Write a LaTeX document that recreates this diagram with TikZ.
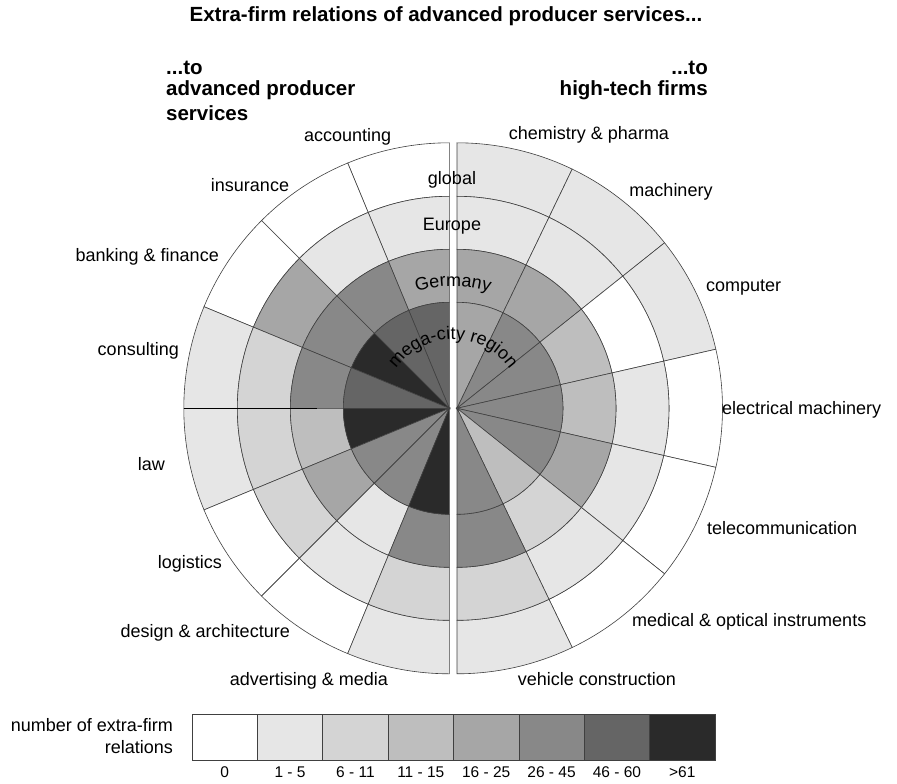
\documentclass[tikz,border=0pt]{standalone}
\usepackage{fontspec}
\setmainfont{Liberation Sans}
\usetikzlibrary{decorations.text}
\definecolor{lvA}{HTML}{FFFFFF}
\definecolor{lvB}{HTML}{E6E6E6}
\definecolor{lvC}{HTML}{D4D4D4}
\definecolor{lvD}{HTML}{BEBEBE}
\definecolor{lvE}{HTML}{A6A6A6}
\definecolor{lvF}{HTML}{888888}
\definecolor{lvG}{HTML}{656565}
\definecolor{lvH}{HTML}{2A2A2A}
\definecolor{gridline}{HTML}{404040}
\newcommand\lblfont{\fontsize{18}{21}\selectfont}
\newcommand\hdrfont{\fontsize{20.5}{23}\selectfont\bfseries}
\newcommand\legfont{\fontsize{15.5}{18}\selectfont}
\def\radM{106}
\def\radG{159}
\def\radE{212}
\def\radW{265.5}
\begin{document}
\begin{tikzpicture}[x=1pt,y=1pt,
  cellstyle/.style={draw=gridline, line width=0.6pt},
  lbl/.style={font=\lblfont, inner sep=0pt},
  hdr/.style={font=\hdrfont, inner sep=0pt},
  legtxt/.style={font=\legfont, inner sep=0pt}]
\useasboundingbox (0,0) rectangle (897,-784);

% ---------- left half: advanced producer services ----------
\begin{scope}[shift={(449.3,-408.3)}]
\foreach \k/\cw/\ce/\cg/\cm in {0/lvA/lvB/lvE/lvG, 1/lvA/lvB/lvF/lvG, 2/lvA/lvE/lvF/lvH, 3/lvB/lvC/lvF/lvG, 4/lvB/lvC/lvD/lvH, 5/lvA/lvC/lvE/lvF, 6/lvA/lvB/lvB/lvF, 7/lvB/lvC/lvF/lvH}{
  \pgfmathsetmacro\aa{90+22.5*\k}
  \pgfmathsetmacro\ab{90+22.5*(\k+1)}
  \filldraw[cellstyle, fill=\cw] (\aa:\radE) arc[start angle=\aa, end angle=\ab, radius=\radE] -- (\ab:\radW) arc[start angle=\ab, end angle=\aa, radius=\radW] -- cycle;
  \filldraw[cellstyle, fill=\ce] (\aa:\radG) arc[start angle=\aa, end angle=\ab, radius=\radG] -- (\ab:\radE) arc[start angle=\ab, end angle=\aa, radius=\radE] -- cycle;
  \filldraw[cellstyle, fill=\cg] (\aa:\radM) arc[start angle=\aa, end angle=\ab, radius=\radM] -- (\ab:\radG) arc[start angle=\ab, end angle=\aa, radius=\radG] -- cycle;
  \filldraw[cellstyle, fill=\cm] (0,0) -- (\aa:\radM) arc[start angle=\aa, end angle=\ab, radius=\radM] -- cycle;
}
\draw[line width=1.3pt, black] (180:\radW) -- (180:132);
\end{scope}

% ---------- right half: high-tech firms ----------
\begin{scope}[shift={(457,-408.3)}]
\foreach \k/\cw/\ce/\cg/\cm in {0/lvB/lvB/lvE/lvE, 1/lvB/lvB/lvE/lvF, 2/lvB/lvA/lvD/lvF, 3/lvA/lvB/lvD/lvF, 4/lvA/lvB/lvE/lvF, 5/lvA/lvB/lvC/lvD, 6/lvB/lvC/lvF/lvF}{
  \pgfmathsetmacro\aa{90-25.7142857*\k}
  \pgfmathsetmacro\ab{90-25.7142857*(\k+1)}
  \filldraw[cellstyle, fill=\cw] (\aa:\radE) arc[start angle=\aa, end angle=\ab, radius=\radE] -- (\ab:\radW) arc[start angle=\ab, end angle=\aa, radius=\radW] -- cycle;
  \filldraw[cellstyle, fill=\ce] (\aa:\radG) arc[start angle=\aa, end angle=\ab, radius=\radG] -- (\ab:\radE) arc[start angle=\ab, end angle=\aa, radius=\radE] -- cycle;
  \filldraw[cellstyle, fill=\cg] (\aa:\radM) arc[start angle=\aa, end angle=\ab, radius=\radM] -- (\ab:\radG) arc[start angle=\ab, end angle=\aa, radius=\radG] -- cycle;
  \filldraw[cellstyle, fill=\cm] (0,0) -- (\aa:\radM) arc[start angle=\aa, end angle=\ab, radius=\radM] -- cycle;
}
\end{scope}

% ---------- ring names ----------
\node[lbl] (ringW) at (452,-180) {global};
\node[lbl] (ringE) at (452,-226) {Europe};
\begin{scope}[shift={(453,-408.3)}]
\path[decorate, decoration={text along path, text align=center, text={|\lblfont|Germany}}] (140:122) arc[start angle=140, end angle=40, radius=122];
\path[decorate, decoration={text along path, text align=center, text={|\lblfont|mega-city region}}] (175:69) arc[start angle=175, end angle=5, radius=69];
\end{scope}

% ---------- titles ----------
\node[hdr] (title) at (446,-16) {Extra-firm relations of advanced producer services...};
\node[hdr, anchor=west] (lhA) at (166,-68) {...to};
\node[hdr, anchor=west] (lhB) at (166,-90) {advanced producer};
\node[hdr, anchor=west] (lhC) at (166,-113) {services};
\node[hdr, anchor=east] (rhA) at (708,-68) {...to};
\node[hdr, anchor=east] (rhB) at (708,-90) {high-tech firms};

% ---------- sector labels ----------
\node[lbl] (accounting) at (347.7,-137.3) {accounting};
\node[lbl] (insurance) at (250,-185) {insurance};
\node[lbl, anchor=east] (banking) at (219,-257) {banking \& finance};
\node[lbl, anchor=east] (consulting) at (179,-351) {consulting};
\node[lbl, anchor=east] (law) at (165,-464) {law};
\node[lbl, anchor=east] (logistics) at (222,-564) {logistics};
\node[lbl, anchor=east] (design) at (290,-633) {design \& architecture};
\node[lbl] (advertising) at (309,-681) {advertising \& media};
\node[lbl] (chemistry) at (589,-135) {chemistry \& pharma};
\node[lbl] (machinery) at (671,-192) {machinery};
\node[lbl, anchor=west] (computer) at (706,-288) {computer};
\node[lbl, anchor=west] (electrical) at (722,-410) {electrical machinery};
\node[lbl, anchor=west] (telecom) at (707,-528) {telecommunication};
\node[lbl, anchor=west] (medical) at (632,-622) {medical \& optical instruments};
\node[lbl] (vehicle) at (597,-679) {vehicle construction};

% ---------- legend ----------
\node[lbl, anchor=east] (legA) at (173,-725) {number of extra-firm};
\node[lbl, anchor=east] (legB) at (173,-747) {relations};
\foreach \i/\c/\t in {0/lvA/0, 1/lvB/1 - 5, 2/lvC/6 - 11, 3/lvD/11 - 15, 4/lvE/16 - 25, 5/lvF/26 - 45, 6/lvG/46 - 60, 7/lvH/>61}{
  \filldraw[draw=gridline, line width=0.6pt, fill=\c] (192+65.375*\i,-714) rectangle ++(65.375,-46);
  \node[legtxt] (leg\i) at (192+65.375*\i+32.69,-772) {\t};
}
\end{tikzpicture}
\end{document}
